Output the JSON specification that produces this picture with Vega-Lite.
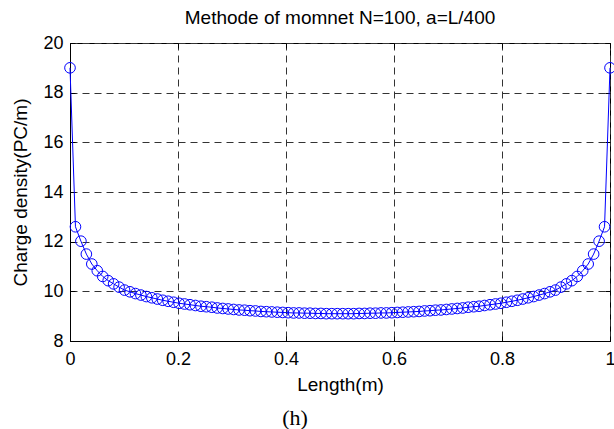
{
  "$schema": "https://vega.github.io/schema/vega-lite/v6.json",
  "width": 540,
  "height": 298,
  "autosize": {"type": "none"},
  "padding": {"left": 70, "top": 43, "right": 4, "bottom": 88},
  "background": "white",
  "title": {
    "text": "Methode of momnet N=100, a=L/400",
    "font": "Liberation Sans",
    "fontSize": 19,
    "fontWeight": "normal",
    "color": "black",
    "anchor": "middle",
    "offset": 6
  },
  "config": {
    "view": {"stroke": "black", "strokeWidth": 1},
    "axis": {
      "labelFont": "Liberation Sans",
      "titleFont": "Liberation Sans",
      "labelFontSize": 18,
      "titleFontSize": 19,
      "titleFontWeight": "normal",
      "labelColor": "black",
      "titleColor": "black",
      "domainColor": "black",
      "tickColor": "black",
      "gridColor": "#333333",
      "gridDash": [7, 5],
      "gridOpacity": 1,
      "gridWidth": 1
    }
  },
  "resolve": {"axis": {"x": "independent", "y": "independent"}},
  "data": {
    "values": [
      {"x": 0, "y": 19.0}, {"x": 0.0101, "y": 12.6}, {"x": 0.0202, "y": 12.02}, {"x": 0.0303, "y": 11.5},
      {"x": 0.0404, "y": 11.1}, {"x": 0.0505, "y": 10.83}, {"x": 0.0606, "y": 10.6}, {"x": 0.0707, "y": 10.43},
      {"x": 0.0808, "y": 10.3}, {"x": 0.0909, "y": 10.17}, {"x": 0.101, "y": 10.05}, {"x": 0.1111, "y": 9.98},
      {"x": 0.1212, "y": 9.91}, {"x": 0.1313, "y": 9.85}, {"x": 0.1414, "y": 9.79}, {"x": 0.1515, "y": 9.74},
      {"x": 0.1616, "y": 9.69}, {"x": 0.1717, "y": 9.64}, {"x": 0.1818, "y": 9.6}, {"x": 0.1919, "y": 9.56},
      {"x": 0.202, "y": 9.52}, {"x": 0.2121, "y": 9.49}, {"x": 0.2222, "y": 9.46}, {"x": 0.2323, "y": 9.43},
      {"x": 0.2424, "y": 9.4}, {"x": 0.2525, "y": 9.38}, {"x": 0.2626, "y": 9.36}, {"x": 0.2727, "y": 9.33},
      {"x": 0.2828, "y": 9.31}, {"x": 0.2929, "y": 9.29}, {"x": 0.303, "y": 9.27}, {"x": 0.3131, "y": 9.25},
      {"x": 0.3232, "y": 9.24}, {"x": 0.3333, "y": 9.22}, {"x": 0.3434, "y": 9.21}, {"x": 0.3535, "y": 9.19},
      {"x": 0.3636, "y": 9.18}, {"x": 0.3737, "y": 9.17}, {"x": 0.3838, "y": 9.16}, {"x": 0.3939, "y": 9.15},
      {"x": 0.404, "y": 9.14}, {"x": 0.4141, "y": 9.13}, {"x": 0.4242, "y": 9.13}, {"x": 0.4343, "y": 9.12},
      {"x": 0.4444, "y": 9.12}, {"x": 0.4545, "y": 9.11}, {"x": 0.4646, "y": 9.11}, {"x": 0.4747, "y": 9.1},
      {"x": 0.4848, "y": 9.1}, {"x": 0.4949, "y": 9.1}, {"x": 0.5051, "y": 9.1}, {"x": 0.5152, "y": 9.1},
      {"x": 0.5253, "y": 9.1}, {"x": 0.5354, "y": 9.11}, {"x": 0.5455, "y": 9.11}, {"x": 0.5556, "y": 9.12},
      {"x": 0.5657, "y": 9.12}, {"x": 0.5758, "y": 9.13}, {"x": 0.5859, "y": 9.13}, {"x": 0.596, "y": 9.14},
      {"x": 0.6061, "y": 9.15}, {"x": 0.6162, "y": 9.16}, {"x": 0.6263, "y": 9.17}, {"x": 0.6364, "y": 9.18},
      {"x": 0.6465, "y": 9.19}, {"x": 0.6566, "y": 9.21}, {"x": 0.6667, "y": 9.22}, {"x": 0.6768, "y": 9.24},
      {"x": 0.6869, "y": 9.25}, {"x": 0.697, "y": 9.27}, {"x": 0.7071, "y": 9.29}, {"x": 0.7172, "y": 9.31},
      {"x": 0.7273, "y": 9.33}, {"x": 0.7374, "y": 9.36}, {"x": 0.7475, "y": 9.38}, {"x": 0.7576, "y": 9.4},
      {"x": 0.7677, "y": 9.43}, {"x": 0.7778, "y": 9.46}, {"x": 0.7879, "y": 9.49}, {"x": 0.798, "y": 9.52},
      {"x": 0.8081, "y": 9.56}, {"x": 0.8182, "y": 9.6}, {"x": 0.8283, "y": 9.64}, {"x": 0.8384, "y": 9.69},
      {"x": 0.8485, "y": 9.74}, {"x": 0.8586, "y": 9.79}, {"x": 0.8687, "y": 9.85}, {"x": 0.8788, "y": 9.91},
      {"x": 0.8889, "y": 9.98}, {"x": 0.899, "y": 10.05}, {"x": 0.9091, "y": 10.17}, {"x": 0.9192, "y": 10.3},
      {"x": 0.9293, "y": 10.43}, {"x": 0.9394, "y": 10.6}, {"x": 0.9495, "y": 10.83}, {"x": 0.9596, "y": 11.1},
      {"x": 0.9697, "y": 11.5}, {"x": 0.9798, "y": 12.02}, {"x": 0.9899, "y": 12.6}, {"x": 1, "y": 19.0}
    ]
  },
  "layer": [
    {
      "mark": {"type": "line", "color": "#0000FF", "strokeWidth": 1},
      "encoding": {
        "x": {
          "field": "x", "type": "quantitative",
          "scale": {"domain": [0, 1], "nice": false, "zero": false},
          "axis": {"title": "Length(m)", "values": [0, 0.2, 0.4, 0.6, 0.8, 1], "format": "~g", "tickSize": -5, "labelPadding": 14, "titlePadding": 7, "grid": true, "labelFlush": false}
        },
        "y": {
          "field": "y", "type": "quantitative",
          "scale": {"domain": [8, 20], "nice": false, "zero": false},
          "axis": {"title": "Charge density(PC/m)", "values": [8, 10, 12, 14, 16, 18, 20], "tickSize": -5, "labelPadding": 12, "titlePadding": 12, "grid": true, "labelFlush": false}
        }
      }
    },
    {
      "mark": {"type": "point", "shape": "circle", "filled": false, "color": "#0000FF", "size": 113, "strokeWidth": 1, "opacity": 1},
      "encoding": {
        "x": {
          "field": "x", "type": "quantitative",
          "axis": {"orient": "top", "values": [0, 0.2, 0.4, 0.6, 0.8, 1], "labels": false, "domain": false, "grid": false, "title": null, "tickSize": -5}
        },
        "y": {
          "field": "y", "type": "quantitative",
          "axis": {"orient": "right", "values": [8, 10, 12, 14, 16, 18, 20], "labels": false, "domain": false, "grid": false, "title": null, "tickSize": -5}
        }
      }
    },
    {
      "data": {"values": [{"label": "(h)"}]},
      "mark": {"type": "text", "font": "Liberation Serif", "fontSize": 22, "color": "black", "baseline": "middle", "align": "center"},
      "encoding": {
        "x": {"datum": 0.4167, "type": "quantitative", "scale": {"domain": [0, 1]}, "axis": null},
        "y": {"datum": 4.89, "type": "quantitative", "scale": {"domain": [8, 20]}, "axis": null},
        "text": {"field": "label"}
      }
    }
  ]
}
